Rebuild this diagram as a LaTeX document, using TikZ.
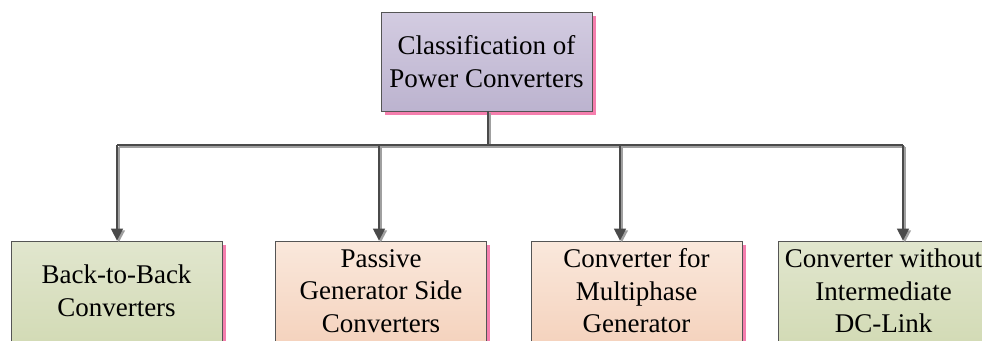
\documentclass[tikz,border=0pt]{standalone}
\usepackage{fontspec}
\setmainfont{Liberation Serif}
\newfontfamily\boxfont{Liberation Serif}
\usetikzlibrary{shadows,arrows.meta}

\definecolor{edgec}{HTML}{555555}
\definecolor{pinkc}{HTML}{F57FAE}
\definecolor{lavtop}{HTML}{D3CCE1}
\definecolor{lavbot}{HTML}{BCB3CF}
\definecolor{grntop}{HTML}{E1E6CE}
\definecolor{grnbot}{HTML}{D3DBB6}
\definecolor{orgtop}{HTML}{FAE8DC}
\definecolor{orgbot}{HTML}{F5D3BE}
\definecolor{linedark}{HTML}{4A4A4A}
\definecolor{linelight}{HTML}{A0A0A0}

\tikzset{
  box/.style={draw=edgec, line width=0.8pt, align=center,
    minimum width=211pt, inner sep=2pt,
    font=\boxfont\fontsize{27}{32.5}\selectfont,
    drop shadow={shadow xshift=3.5pt, shadow yshift=-3.5pt, fill=pinkc, opacity=1}},
  rootbox/.style={box, minimum height=99pt, top color=lavtop, bottom color=lavbot},
  greenbox/.style={box, minimum height=100pt, top color=grntop, bottom color=grnbot},
  orangebox/.style={box, minimum height=100pt, top color=orgtop, bottom color=orgbot},
  conn/.style={draw=linedark, line width=1.5pt,
    preaction={draw=linelight, line width=2.2pt,
      transform canvas={xshift=1.8pt, yshift=-1.8pt}}},
  arrowconn/.style={conn, -{Triangle[length=12pt, width=12pt]}}
}

\begin{document}
\begin{tikzpicture}[x=1pt, y=-1pt]
  \useasboundingbox (0,0) rectangle (982,340);
  \clip (0,0) rectangle (982,340);

  % boxes
  \node[rootbox] (root) at (486.5,61.5) {Classification of\\Power Converters};
  \node[greenbox] (b1) at (116.5,291) {Back-to-Back\\Converters};
  \node[orangebox] (b2) at (381,291) {Passive\\Generator Side\\Converters};
  \node[orangebox] (b3) at (636.5,291) {Converter for\\Multiphase\\Generator};
  \node[greenbox] (b4) at (883.5,291) {Converter without\\Intermediate\\DC-Link};

  % bus taps
  \coordinate (t1) at (117,145);
  \coordinate (t2) at (379,145);
  \coordinate (t3) at (620,145);
  \coordinate (t4) at (903,145);
  \coordinate (stem) at (488,145);

  % connectors
  \draw[conn] (root.south -| stem) -- (stem);
  \draw[conn] (t1) -- (t4);
  \draw[arrowconn] (t1) -- (t1 |- b1.north);
  \draw[arrowconn] (t2) -- (t2 |- b2.north);
  \draw[arrowconn] (t3) -- (t3 |- b3.north);
  \draw[arrowconn] (t4) -- (t4 |- b4.north);
\end{tikzpicture}
\end{document}
